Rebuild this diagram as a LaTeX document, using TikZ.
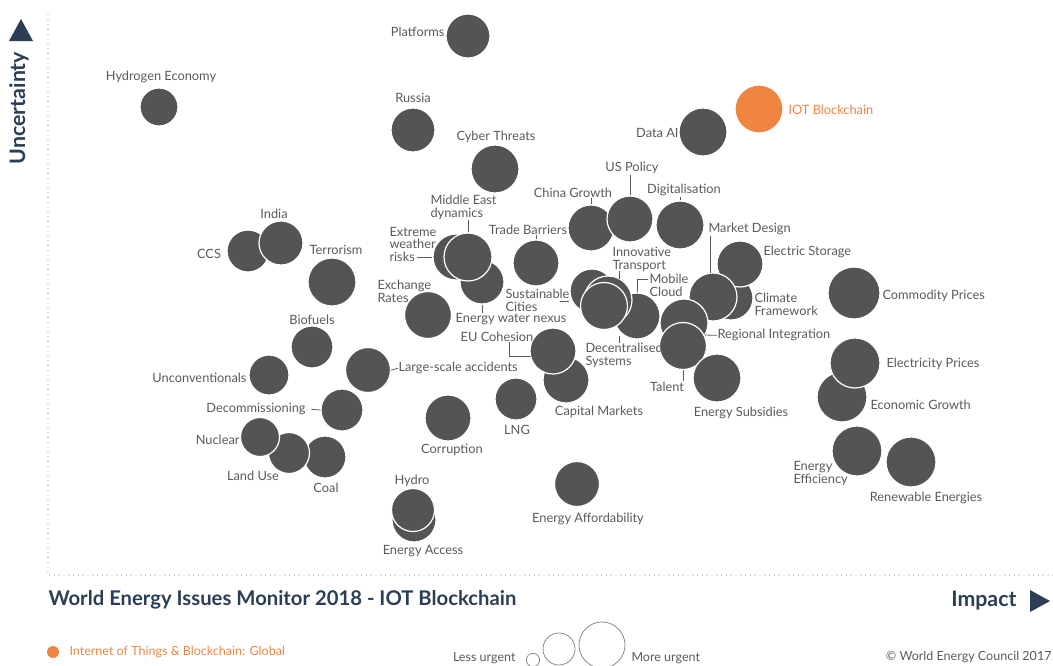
\documentclass[tikz,border=0pt]{standalone}
\usepackage{fontspec}
\setmainfont{Lato}

\definecolor{issuegrey}{HTML}{545454}
\definecolor{labelgrey}{HTML}{5A5A5A}
\definecolor{wecnavy}{HTML}{2C3E55}
\definecolor{wecorange}{HTML}{F08441}
\definecolor{dotgrey}{HTML}{A8A8A8}

\tikzset{every picture/.style={line width=0.75pt}}
\tikzset{
  issue/.style={circle, fill=issuegrey, draw=white, line width=0.9pt, inner sep=0pt, minimum size=#1*1.5pt},
  lbl/.style={text=labelgrey, font=\fontsize{9.6}{9.6}\selectfont, inner sep=0pt, align=left, yshift=-1pt},
  leader/.style={draw=labelgrey, line width=0.6pt},
  axisdots/.style={draw=dotgrey, line width=1.1pt, line cap=round, dash pattern=on 0pt off 3.6pt},
  heading/.style={text=wecnavy, font=\bfseries\fontsize{16}{18}\selectfont, inner sep=0pt},
  legendtxt/.style={font=\fontsize{9.4}{11}\selectfont, inner sep=0pt},
}

\begin{document}
\begin{tikzpicture}[x=0.75pt,y=0.75pt,yscale=-1]
	\useasboundingbox (0,0) rectangle (1053,665);

	%Shape: Axis dots
	\draw [axisdots] (48,15) -- (48,575) -- (1053,575) ;
	%Shape: Triangle up
	\fill [wecnavy] (9,41) -- (21,19) -- (33,41) -- cycle ;
	%Shape: Triangle right
	\fill [wecnavy] (1030,590) -- (1050,601) -- (1030,612) -- cycle ;

	%Shape: Circles, back to front
	\node [issue=22] (cplt) at (468,36) {};
	\node [issue=19] (chyd) at (159,107) {};
	\node [issue=22] (crus) at (413,130) {};
	\node [issue=24] (ccyb) at (495,169) {};
	\node [issue=24] (cdat) at (703,132) {};
	\node [issue=24, fill=wecorange] (ciot) at (759,109) {};
	\node [issue=23] (cchg) at (591,228) {};
	\node [issue=23] (cusp) at (630,219) {};
	\node [issue=24] (cdig) at (680,225) {};
	\node [issue=23] (ctrd) at (536,263) {};
	\node [issue=21] (cccs) at (248,251) {};
	\node [issue=22] (cind) at (281,243) {};
	\node [issue=24] (cter) at (332,282) {};
	\node [issue=22] (cewn) at (482,282) {};
	\node [issue=23] (cxw) at (456,257) {};
	\node [issue=24] (cmed) at (468,257) {};
	\node [issue=23.5] (cexr) at (428,315) {};
	\node [issue=22] (csus) at (592,291) {};
	\node [issue=23] (cmob) at (637,316) {};
	\node [issue=24] (cinn) at (608,300) {};
	\node [issue=23.5] (cdcs) at (604,306) {};
	\node [issue=22] (cclf) at (731,298) {};
	\node [issue=23] (cels) at (740,264) {};
	\node [issue=24] (cmkt) at (713,297) {};
	\node [issue=24] (creg) at (684,323) {};
	\node [issue=23.5] (ctal) at (683,346) {};
	\node [issue=24] (cesu) at (717,378) {};
	\node [issue=26] (ccom) at (854,293) {};
	\node [issue=25] (cecg) at (842,397) {};
	\node [issue=25] (celp) at (855,363) {};
	\node [issue=25] (ceff) at (857,451) {};
	\node [issue=25] (cren) at (911,462) {};
	\node [issue=23] (ccap) at (566,380) {};
	\node [issue=23] (ceuc) at (553,351) {};
	\node [issue=21] (clng) at (516,399) {};
	\node [issue=21] (cbio) at (312,347) {};
	\node [issue=20] (cunc) at (269,375) {};
	\node [issue=22.5] (clsa) at (368,370) {};
	\node [issue=21] (cdcm) at (342,410) {};
	\node [issue=21] (ccoal) at (325,457) {};
	\node [issue=20.5] (clnd) at (289,453) {};
	\node [issue=19.5] (cnuc) at (260,437) {};
	\node [issue=23] (ccor) at (448,418) {};
	\node [issue=22] (cacc) at (414,520) {};
	\node [issue=21.5] (chyo) at (413,510) {};
	\node [issue=22.5] (caff) at (577,484) {};

	% Text Node
	\node [lbl, anchor=east] (tplt) at (445,31) {Platforms};
	\node [lbl] (thyd) at (161,76) {Hydrogen Economy};
	\node [lbl] (trus) at (413,97) {Russia};
	\node [lbl] (tcyb) at (496,136) {Cyber Threats};
	\node [lbl, anchor=east] (tdat) at (679,132) {Data AI};
	\node [lbl, anchor=west, text=wecorange] (tiot) at (788,108) {IOT Blockchain};
	\node [lbl] (tusp) at (632,167) {US Policy};
	\node [lbl] (tdig) at (684,189) {Digitalisation};
	\node [lbl] (tchg) at (573,191) {China Growth};
	\node [lbl, anchor=west] (tmed) at (430,206) {Middle East\\dynamics};
	\node [lbl, anchor=west] (txw) at (389,243) {Extreme\\weather\\risks};
	\node [lbl] (ttrd) at (528,228) {Trade Barriers};
	\node [lbl, anchor=west] (tmkt) at (708,228) {Market Design};
	\node [lbl, anchor=west] (tels) at (763,251) {Electric Storage};
	\node [lbl] (tind) at (274,212) {India};
	\node [lbl] (tccs) at (209,253) {CCS};
	\node [lbl] (tter) at (336,249) {Terrorism};
	\node [lbl, anchor=west] (tinn) at (612,258) {Innovative\\Transport};
	\node [lbl, anchor=west] (tmob) at (649,284) {Mobile\\Cloud};
	\node [lbl, anchor=west] (tsus) at (505,299) {Sustainable\\Cities};
	\node [lbl, anchor=west] (texr) at (377,290) {Exchange\\Rates};
	\node [lbl, anchor=west] (tclf) at (754,303) {Climate\\Framework};
	\node [lbl, anchor=west] (tcom) at (882,295) {Commodity Prices};
	\node [lbl] (tbio) at (312,318) {Biofuels};
	\node [lbl] (tewn) at (511,318) {Energy water nexus};
	\node [lbl] (teuc) at (497,335) {EU Cohesion};
	\node [lbl, anchor=west] (treg) at (717,334) {Regional Integration};
	\node [lbl, anchor=west] (tdcs) at (585,354) {Decentralised\\Systems};
	\node [lbl, anchor=west] (telp) at (886,363) {Electricity Prices};
	\node [lbl, anchor=east] (tunc) at (247,376) {Unconventionals};
	\node [lbl, anchor=west] (tlsa) at (398,367) {Large-scale accidents};
	\node [lbl] (ttal) at (667,385) {Talent};
	\node [lbl, anchor=west] (tecg) at (870,403) {Economic Growth};
	\node [lbl] (tdcm) at (256,408) {Decommissioning};
	\node [lbl] (tcap) at (599,411) {Capital Markets};
	\node [lbl] (tesu) at (741,412) {Energy Subsidies};
	\node [lbl] (tlng) at (517,429) {LNG};
	\node [lbl, anchor=east] (tnuc) at (240,438) {Nuclear};
	\node [lbl] (tcor) at (452,449) {Corruption};
	\node [lbl] (tlnd) at (253,474) {Land Use};
	\node [lbl] (tcoal) at (326,486) {Coal};
	\node [lbl, anchor=west] (teff) at (793,472) {Energy\\Efficiency};
	\node [lbl] (tren) at (926,497) {Renewable Energies};
	\node [lbl] (thyo) at (412,480) {Hydro};
	\node [lbl] (taff) at (588,518) {Energy Affordability};
	\node [lbl] (tacc) at (423,550) {Energy Access};

	%Coordinates for leader ends
	\coordinate (kxw) at (417,257);
	\coordinate (kinn) at (619,271);
	\coordinate (kmob) at (648,279);
	\coordinate (ksus) at (560,301);
	\coordinate (kdcs) at (619,336);
	\coordinate (kreg) at (705,335);
	\coordinate (keuc) at (531,356);

	%Straight Lines: leaders
	\draw [leader] (tchg.south -| cchg) -- (cchg.north) ;
	\draw [leader] (tusp.south -| cusp) -- (cusp.north) ;
	\draw [leader] (tdig.south -| cdig) -- (cdig.north) ;
	\draw [leader] (tmkt.south -| 710,0) -- (710,273) ;
	\draw [leader] (ttrd.south -| ctrd) -- (ctrd.north) ;
	\draw [leader] (tmed.south -| cmed) -- (cmed.north) ;
	\draw [leader] (kxw) -- (kxw -| cxw.west) ;
	\draw [leader] (cewn.south) -- (cewn.south |- tewn.north) ;
	\draw [leader] (kinn) -- ++(0,8) ;
	\draw [leader] (cmob.north) |- (kmob) ;
	\draw [leader] (ksus) -- (ksus -| csus.west) ;
	\draw [leader] (kdcs) -- (kdcs |- tdcs.north) ;
	\draw [leader] (kreg) -- (treg.west) ;
	\draw [leader] (ctal.south) -- (ctal.south |- ttal.north) ;
	\draw [leader] (teuc.south -| 509,0) |- (keuc) ;
	\draw [leader] (clsa.east) -- (tlsa.west) ;
	\draw [leader] ([xshift=4pt]tdcm.east) -- (cdcm.west) ;

	% Text Node: axes
	\node [heading, rotate=90] (tunc2) at (19,108) {Uncertainty};
	\node [heading, anchor=west, font=\bfseries\fontsize{15.2}{17}\selectfont] (ttitle) at (48,600) {World Energy Issues Monitor 2018 - IOT Blockchain};
	\node [heading, anchor=east] (timp) at (1017,601) {Impact};

	% Legend
	\node [circle, fill=wecorange, inner sep=0pt, minimum size=9pt] (lgdot) at (53,652) {};
	\node [legendtxt, text=wecorange, anchor=west] (lgtxt) at (69,652) {Internet of Things \& Blockchain: Global};
	\node [legendtxt, text=labelgrey, anchor=east] (lgless) at (516,658) {Less urgent};
	\node [circle, draw=labelgrey!70, line width=0.6pt, inner sep=0pt, minimum size=10pt] (lgs) at (533,660) {};
	\node [circle, draw=labelgrey!70, line width=0.6pt, inner sep=0pt, minimum size=24pt] (lgm) at (559,649) {};
	\node [circle, draw=labelgrey!70, line width=0.6pt, inner sep=0pt, minimum size=34.5pt] (lgb) at (602,645) {};
	\node [legendtxt, text=labelgrey, anchor=west] (lgmore) at (631,658) {More urgent};
	\node [legendtxt, text=labelgrey, anchor=east] (lgcopy) at (1052,657) {© World Energy Council 2017};

\end{tikzpicture}
\end{document}
